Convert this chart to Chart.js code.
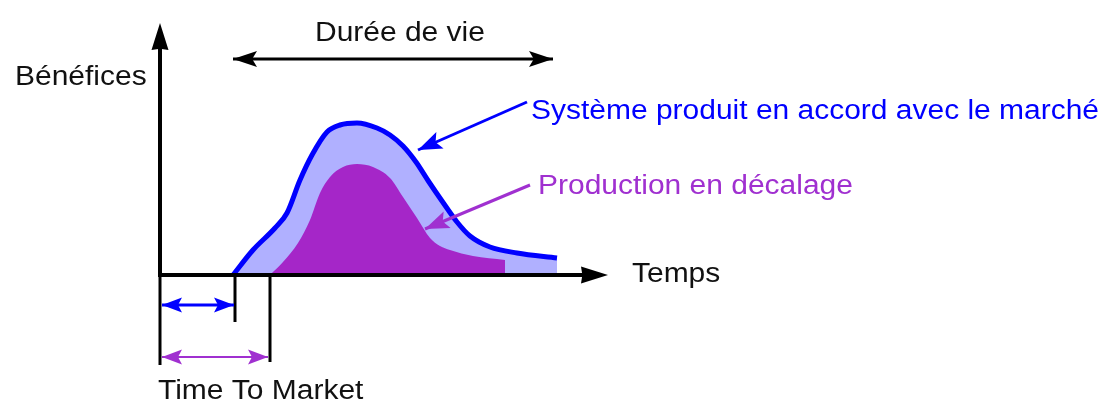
<!DOCTYPE html>
<html>
<head>
<meta charset="utf-8">
<script src="https://cdn.jsdelivr.net/npm/chart.js@4"></script>
<style>
  html, body { margin: 0; padding: 0; background: #fff; }
  #wrap { width: 1103px; height: 401px; }
</style>
</head>
<body>
<div id="wrap"><canvas id="c"></canvas></div>
<script>
// Courbe "Système produit en accord avec le marché"
const tempsMarche     = [7.3, 9.3, 11.5, 12.7, 14.0, 15.2, 16.7, 18.0, 19.7, 21.7, 23.0, 24.3, 25.6, 26.9, 28.2, 29.7, 31.0, 33.0, 35.7, 39.7];
const beneficesMarche = [0,   2.5, 4.7,  6.2,  9.5,  12.0, 14.3, 15.0, 15.2, 14.7, 14.0, 12.9, 11.3, 9.3,  7.4,  5.3,  3.9,  2.8,  2.2,  1.7];

// Courbe "Production en décalage"
const tempsDecalage     = [11.0, 12.3, 13.8, 15.0, 16.0, 17.0, 18.3, 19.7, 21.3, 23.0, 24.3, 25.7, 27.0, 28.0, 29.0, 31.3, 34.5];
const beneficesDecalage = [0,    1.3,  3.2,  5.5,  8.2,  9.8,  10.8, 11.1, 10.8, 9.7,  7.8,  5.7,  3.7,  2.9,  2.5,  1.9,  1.5];

const AXE_X_MAX = 45;
const AXE_Y_MAX = 25;

const FONT = '27px "Liberation Sans", Arial, sans-serif';
const SX = 1.11; // texte étiré horizontalement comme dans l'original

const BLEU = '#0000FF';
const LAVANDE = '#B0B0FF';
const VIOLET = '#A526C8';
const VIOLET_TXT = '#A030D0';

const pts = (xs, ys) => xs.map((x, i) => ({ x, y: ys[i] }));

function texte(ctx, s, x, y, color) {
    ctx.save();
    ctx.font = FONT;
    ctx.fillStyle = color;
    ctx.textBaseline = 'alphabetic';
    ctx.translate(x, y);
    ctx.scale(SX, 1);
    ctx.fillText(s, 0, 0);
    ctx.restore();
}

// pointe de flèche en (x, y), orientée selon l'angle a
function pointe(ctx, x, y, a, len, w, color, creux = 0.8) {
    ctx.save();
    ctx.translate(x, y);
    ctx.rotate(a);
    ctx.fillStyle = color;
    ctx.beginPath();
    ctx.moveTo(0, 0);
    ctx.lineTo(-len, -w);
    ctx.lineTo(-len * creux, 0);
    ctx.lineTo(-len, w);
    ctx.closePath();
    ctx.fill();
    ctx.restore();
}

function fleche(ctx, x1, y1, x2, y2, color, lw, len, w, double) {
    ctx.save();
    ctx.strokeStyle = color;
    ctx.lineWidth = lw;
    ctx.beginPath();
    ctx.moveTo(x1, y1);
    ctx.lineTo(x2, y2);
    ctx.stroke();
    ctx.restore();
    const a = Math.atan2(y2 - y1, x2 - x1);
    pointe(ctx, x2, y2, a, len, w, color);
    if (double) pointe(ctx, x1, y1, a + Math.PI, len, w, color);
}

function trait(ctx, x1, y1, x2, y2, lw) {
    ctx.save();
    ctx.strokeStyle = '#000';
    ctx.lineWidth = lw;
    ctx.beginPath();
    ctx.moveTo(x1, y1);
    ctx.lineTo(x2, y2);
    ctx.stroke();
    ctx.restore();
}

const decor = {
    id: 'decor',
    afterDatasetsDraw(chart) {
        const { ctx, chartArea: ca, scales: { x, y } } = chart;
        const x0 = x.getPixelForValue(0);
        const y0 = y.getPixelForValue(0);
        const xDebut = x.getPixelForValue(tempsMarche[0]);
        const xFin = x.getPixelForValue(tempsMarche[tempsMarche.length - 1]);
        const xDecal = x.getPixelForValue(tempsDecalage[0]);

        // axes
        trait(ctx, x0, y0 + 2, x0, ca.top + 14, 4);
        pointe(ctx, x0, ca.top - 2, -Math.PI / 2, 27, 8.5, '#000', 0.95);
        trait(ctx, x0 - 2, y0, ca.right - 14, y0, 4);
        pointe(ctx, ca.right - 2, y0, 0, 27, 8.5, '#000', 0.95);

        // repères Time To Market
        trait(ctx, x0, y0, x0, 365, 3);
        trait(ctx, xDebut + 2, y0, xDebut + 2, 322, 3);
        trait(ctx, xDecal, y0, xDecal, 362, 3);
        fleche(ctx, x0 + 2, 305, xDebut + 1, 305, BLEU, 3, 20, 7.5, true);
        fleche(ctx, x0 + 2, 357, xDecal - 2, 357, VIOLET_TXT, 2, 20, 7.5, true);

        // durée de vie
        fleche(ctx, xDebut, 59, xFin - 4, 59, '#000', 3, 24, 8, true);

        // flèches des légendes
        fleche(ctx, 527, 102, 418, 150, BLEU, 3, 24, 9, false);
        fleche(ctx, 530, 185, 425, 229, VIOLET_TXT, 3, 24, 9, false);

        texte(ctx, 'Bénéfices', 15, 85, '#111');
        texte(ctx, 'Durée de vie', 315, 41, '#111');
        texte(ctx, 'Temps', 632, 282, '#111');
        texte(ctx, 'Time To Market', 158, 399, '#111');
        texte(ctx, 'Système produit en accord avec le marché', 531, 119, BLEU);
        texte(ctx, 'Production en décalage', 538, 194, VIOLET_TXT);
    }
};

new Chart(document.getElementById('c'), {
    type: 'line',
    data: {
        datasets: [
            {
                label: 'Production en décalage',
                data: pts(tempsDecalage, beneficesDecalage),
                borderWidth: 0,
                borderColor: VIOLET,
                backgroundColor: VIOLET,
                fill: 'origin',
                pointRadius: 0,
                cubicInterpolationMode: 'monotone',
            },
            {
                label: 'Système produit en accord avec le marché',
                data: pts(tempsMarche, beneficesMarche),
                borderWidth: 5,
                borderColor: BLEU,
                backgroundColor: LAVANDE,
                fill: 'origin',
                pointRadius: 0,
                cubicInterpolationMode: 'monotone',
            },
        ],
    },
    options: {
        responsive: true,
        maintainAspectRatio: false,
        animation: false,
        layout: { padding: { left: 160, right: 1103 - 610, top: 25, bottom: 401 - 275 } },
        scales: {
            x: { type: 'linear', min: 0, max: AXE_X_MAX, display: false },
            y: { type: 'linear', min: 0, max: AXE_Y_MAX, display: false },
        },
        plugins: { legend: { display: false }, tooltip: { enabled: false } },
    },
    plugins: [decor],
});
</script>
</body>
</html>
